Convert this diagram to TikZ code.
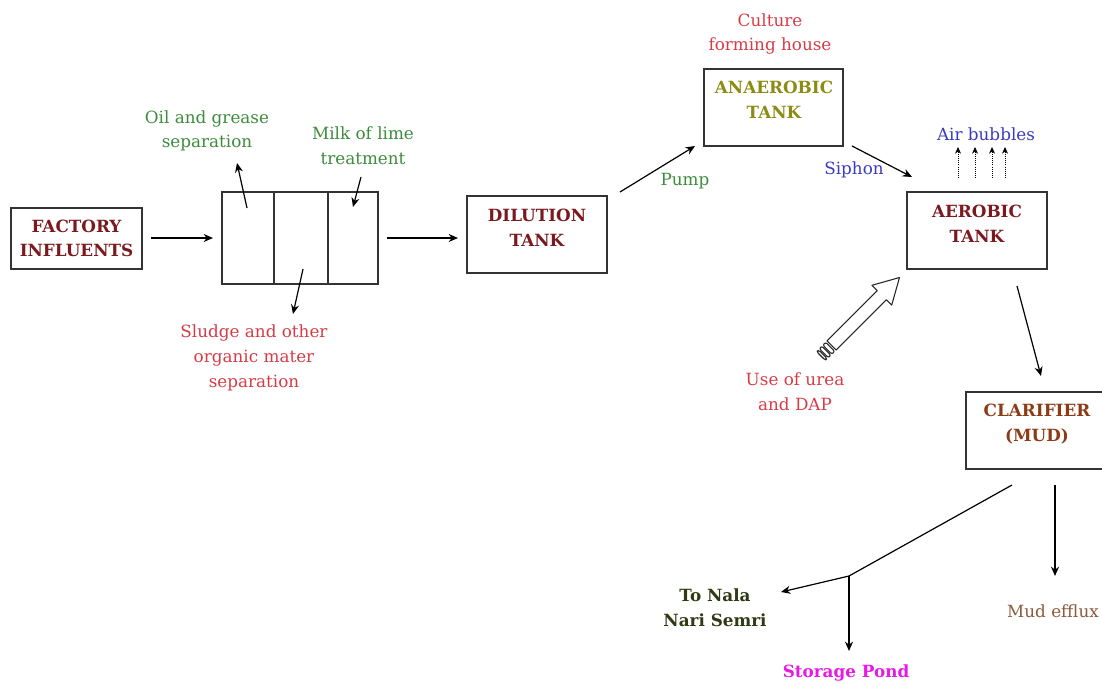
\documentclass[tikz,border=0pt]{standalone}
\usepackage{fontspec}
\setmainfont{DejaVu Serif}
\usetikzlibrary{arrows.meta}
\definecolor{dred}{HTML}{7B1A1E}
\definecolor{lgreen}{HTML}{3C8C3C}
\definecolor{lred}{HTML}{D63C46}
\definecolor{olive}{HTML}{8C8C14}
\definecolor{lblue}{HTML}{3A3AC0}
\definecolor{cbrown}{HTML}{8C3C14}
\definecolor{nala}{HTML}{2E3A12}
\definecolor{pond}{HTML}{E619E6}
\definecolor{mud}{HTML}{8C5A3C}
\begin{document}
\begin{tikzpicture}[x=0.75pt,y=-0.75pt,
  box/.style={draw=black!80,line width=1pt,minimum width=105pt,minimum height=57.75pt,align=center,inner sep=0pt},
  bt/.style={font=\fontsize{12.6}{18.5}\selectfont\bfseries,align=center},
  lbl/.style={font=\fontsize{12.6}{18.5}\selectfont,align=center,inner sep=0pt},
  arr/.style={line width=0.9pt,-{Stealth[length=7pt,width=6pt]}},
  darr/.style={line width=0.6pt,densely dotted,-{Stealth[length=5pt,width=4.5pt]}},
  blk/.style={line width=0.8pt,draw=black!85,line join=round}]
\useasboundingbox (0,0) rectangle (1102,683);
% boxes
\node[box,minimum width=98.25pt,minimum height=45.75pt] (fac) at (76.5,238.5) {};
\node[bt,text=dred] at (76.5,238.5) {FACTORY\\INFLUENTS};
\node[box,minimum width=117pt,minimum height=69pt] (sep) at (300,238) {};
\draw[black!80,line width=1pt] (274,192) -- (274,284) (328,192) -- (328,284);
\node[box] (dil) at (537,234.5) {};
\node[bt,text=dred] at (537,228) {DILUTION\\TANK};
\node[box,minimum width=104.25pt] (ana) at (773.5,107.5) {};
\node[bt,text=olive] at (774,100) {ANAEROBIC\\TANK};
\node[box] (aer) at (977,230.5) {};
\node[bt,text=dred] at (977,224) {AEROBIC\\TANK};
\node[box] (cla) at (1036,430.5) {};
\node[bt,text=cbrown] at (1037,424) {CLARIFIER\\(MUD)};
% labels
\node[lbl,text=lgreen] (oil) at (207,131) {Oil and grease\\separation};
\node[lbl,text=lgreen] (milk) at (363,146) {Milk of lime\\treatment};
\node[lbl,text=lred] (slu) at (254,358) {Sludge and other\\organic mater\\separation};
\node[lbl,text=lgreen] (pump) at (685,181) {Pump};
\node[lbl,text=lred] (cul) at (770,34) {Culture\\forming house};
\node[lbl,text=lblue] (sip) at (854,170) {Siphon};
\node[lbl,text=lblue] (air) at (986,134) {Air bubbles};
\node[lbl,text=lred] (urea) at (795,392) {Use of urea\\and DAP};
\node[lbl,text=nala,font=\fontsize{12.6}{18.5}\selectfont\bfseries] (nala) at (715,608) {To Nala\\Nari Semri};
\node[lbl,text=pond,font=\fontsize{12.6}{18.5}\selectfont\bfseries] (pond) at (846,673) {Storage Pond};
\node[lbl,text=mud] (eff) at (1053,611) {Mud efflux};
% coordinates
\coordinate (a1s) at (151,238); \coordinate (a1e) at (213,238);
\coordinate (o1) at (247,208); \coordinate (o2) at (237,163);
\coordinate (m1) at (361,177); \coordinate (m2) at (353,207);
\coordinate (s1) at (303,269); \coordinate (s2) at (293,314);
\coordinate (a2s) at (387,238); \coordinate (a2e) at (458,238);
\coordinate (p1) at (620,192); \coordinate (p2) at (695,146);
\coordinate (si1) at (852,146); \coordinate (si2) at (912,177);
\coordinate (c1) at (1017,286); \coordinate (c2) at (1041,376);
\coordinate (br1) at (1012,485); \coordinate (br) at (849,576);
\coordinate (n2) at (781,592); \coordinate (sp2) at (849,651);
\coordinate (e1) at (1055,485); \coordinate (e2) at (1055,576);
% arrows
\draw[arr] (a1s) -- (a1e);
\draw[arr] (o1) -- (o2);
\draw[arr] (m1) -- (m2);
\draw[arr] (s1) -- (s2);
\draw[arr] (a2s) -- (a2e);
\draw[arr] (p1) -- (p2);
\draw[arr] (si1) -- (si2);
\draw[arr] (c1) -- (c2);
\draw[line width=0.9pt] (br1) -- (br);
\draw[arr] (br) -- (n2);
\draw[arr] (br) -- (sp2);
\draw[arr] (e1) -- (e2);
% air bubbles
\foreach \xx in {958,975,992,1005} \draw[darr] (\xx,178) -- (\xx,147);
% block arrow
\begin{scope}[shift={(821,356)},rotate=45]
\draw[blk] (15,-6.5) -- (86,-6.5) -- (86,-14) -- (111,0) -- (86,14) -- (86,6.5) -- (15,6.5) -- cycle;
\draw[blk,rounded corners=1.5pt] (9,-6.5) rectangle (13,6.5);
\draw[blk,rounded corners=1.5pt] (4,-6.5) rectangle (7.5,6.5);
\draw[blk,rounded corners=1.5pt] (0,-6) rectangle (2.5,6);
\end{scope}
\end{tikzpicture}
\end{document}
